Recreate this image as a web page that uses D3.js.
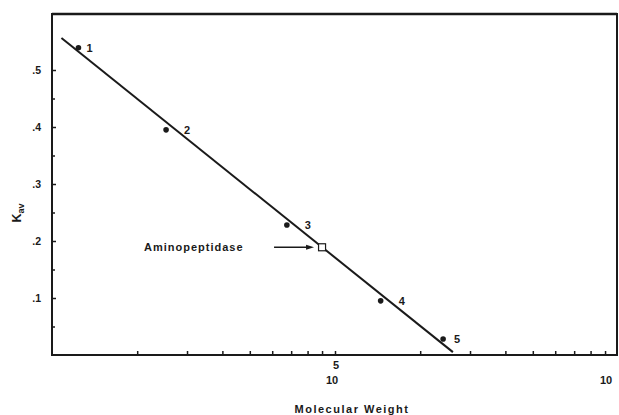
<!DOCTYPE html>
<html><head><meta charset="utf-8">
<script src="https://cdn.jsdelivr.net/npm/d3@7"></script>
<style>
html,body{margin:0;padding:0;background:#fff;}
svg{display:block;}
text{font-family:"Liberation Sans",Arial,sans-serif;font-weight:bold;fill:#1a1a1a;}
</style></head>
<body><svg id="c" width="619" height="415"></svg>
<script>
// Standards: molecular weight vs Kav
const standardIds = ["1", "2", "3", "4", "5"];
const standardMW = [12400, 25300, 67600, 145000, 241000];
const standardKav = [0.539, 0.395, 0.228, 0.095, 0.028];
// Unknown
const unknownName = "Aminopeptidase";
const unknownMW = [90000];
const unknownKav = [0.189];
// Regression line endpoints
const lineMW = [10800, 261000];
const lineKav = [0.556, 0.005];
// Ticks
const yMajorTicks = [0.1, 0.2, 0.3, 0.4, 0.5];
const yTickLabels = [".1", ".2", ".3", ".4", ".5"];
const yMinorTicks = [0.05, 0.15, 0.25, 0.35, 0.45];
const xTicks = [20000, 30000, 40000, 50000, 60000, 70000, 80000, 90000, 100000,
  200000, 300000, 400000, 500000, 600000, 700000, 800000, 900000];
const xDecadeLabels = [{v: 100000, exp: "5"}, {v: 1000000, exp: ""}];

const svg = d3.select("#c");
const ink = "#1a1a1a";
const L = 52, R = 618, T = 13, B = 355;
const x = d3.scaleLog().domain([1e4, 1e6]).range([L, R]);
const y = d3.scaleLinear().domain([0, 0.6]).range([B, T]);

// frame
svg.append("rect").attr("x", L).attr("y", 14).attr("width", 565).attr("height", B - 14)
  .attr("fill", "none").attr("stroke", ink).attr("stroke-width", 2);
svg.append("line").attr("x1", L).attr("x2", 617).attr("y1", 14).attr("y2", 14)
  .attr("stroke", ink).attr("stroke-width", 2.6);

// y axis
const yAxis = d3.axisRight(y).tickValues(yMajorTicks).tickSize(4).tickFormat("");
const gy = svg.append("g").attr("transform", `translate(${L},0)`).call(yAxis);
gy.select(".domain").remove();
gy.selectAll("line").attr("stroke", ink).attr("stroke-width", 1.5);
const yMinor = d3.axisRight(y).tickValues(yMinorTicks).tickSize(3).tickFormat("");
const gym = svg.append("g").attr("transform", `translate(${L},0)`).call(yMinor);
gym.select(".domain").remove();
gym.selectAll("line").attr("stroke", ink).attr("stroke-width", 1.5);
svg.selectAll(".ylab").data(yMajorTicks).join("text")
  .attr("x", 41).attr("y", d => y(d) + 4).attr("text-anchor", "end")
  .attr("font-size", 10.5).text((d, i) => yTickLabels[i]);

// y title K_av
const yt = svg.append("text").attr("transform", "translate(21,213) rotate(-90)")
  .attr("text-anchor", "middle").attr("font-size", 12.5);
yt.append("tspan").text("K");
yt.append("tspan").attr("dy", 3).attr("font-size", 9).text("av");

// x axis
const xAxis = d3.axisTop(x).tickValues(xTicks).tickSize(4).tickFormat("");
const gx = svg.append("g").attr("transform", `translate(0,${B})`).call(xAxis);
gx.select(".domain").remove();
gx.selectAll("line").attr("stroke", ink).attr("stroke-width", 1.5);
xDecadeLabels.forEach(d => {
  const xp = Math.min(x(d.v), 609);
  if (d.exp) svg.append("text").attr("x", xp + 1).attr("y", 369).attr("text-anchor", "middle")
    .attr("font-size", 11).text(d.exp);
  svg.append("text").attr("x", xp - 3).attr("y", 384).attr("text-anchor", "middle")
    .attr("font-size", 11).text("10");
});
svg.append("text").attr("x", 352).attr("y", 413).attr("text-anchor", "middle")
  .attr("font-size", 11).attr("letter-spacing", 1.5).text("Molecular  Weight");

// regression line
svg.append("line")
  .attr("x1", x(lineMW[0])).attr("y1", y(lineKav[0]))
  .attr("x2", x(lineMW[1])).attr("y2", y(lineKav[1]))
  .attr("stroke", ink).attr("stroke-width", 2);

// standard points
const pts = standardMW.map((m, i) => ({m, k: standardKav[i], id: standardIds[i]}));
svg.selectAll(".pt").data(pts).join("circle")
  .attr("cx", d => x(d.m)).attr("cy", d => y(d.k)).attr("r", 2.8).attr("fill", ink);
svg.selectAll(".pl").data(pts).join("text")
  .attr("x", (d, i) => x(d.m) + (i === 0 ? 8 : i === 4 ? 11 : 18))
  .attr("y", d => y(d.k) + 4).attr("font-size", 11).text(d => d.id);

// unknown
const ux = x(unknownMW[0]), uy = y(unknownKav[0]);
svg.append("rect").attr("x", ux - 3.5).attr("y", uy - 3.5).attr("width", 7).attr("height", 7)
  .attr("fill", "#fff").attr("stroke", ink).attr("stroke-width", 1.2);
svg.append("line").attr("x1", ux - 48).attr("y1", uy).attr("x2", ux - 14).attr("y2", uy)
  .attr("stroke", ink).attr("stroke-width", 1.3);
svg.append("path").attr("d", `M${ux - 8},${uy} L${ux - 16},${uy - 2.5} L${ux - 16},${uy + 2.5} Z`)
  .attr("fill", ink);
svg.append("text").attr("x", 144).attr("y", uy + 4).attr("font-size", 11)
  .attr("letter-spacing", 1).text(unknownName);
</script></body></html>
